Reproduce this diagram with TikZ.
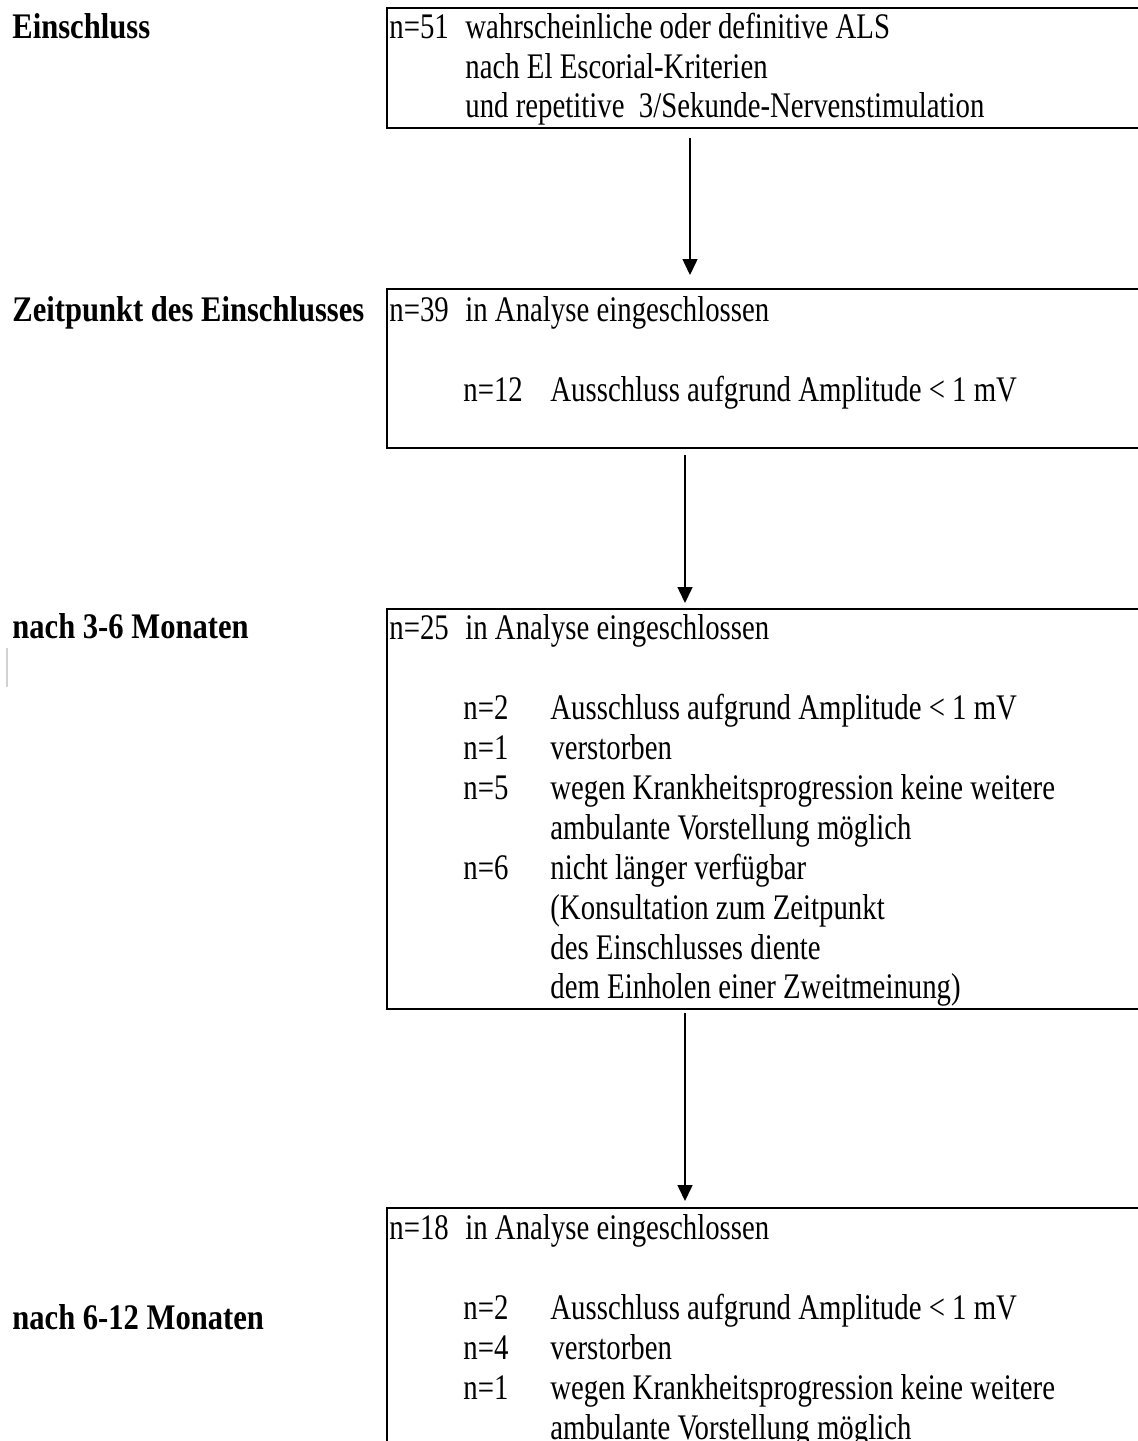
\documentclass[tikz,border=0pt]{standalone}
\usepackage{fontspec}
\setmainfont{Liberation Serif}[FakeStretch=0.80]
\newfontfamily\lblfont{Liberation Serif}[FakeStretch=0.85]
\usetikzlibrary{arrows.meta}

\begin{document}
\begin{tikzpicture}[x={(0.5pt,0)}, y={(0,-0.5pt)},
    txt/.style={anchor=base west, inner sep=0pt, font=\fontsize{18}{20}\selectfont},
    lbl/.style={anchor=base west, inner sep=0pt, font=\fontsize{18}{20}\lblfont\bfseries},
    box/.style={draw=black, line width=1.2pt, inner sep=0pt, anchor=north west, minimum width=390pt},
    arr/.style={-{Triangle[length=8pt,width=7.5pt]}, line width=0.75pt}]

    \useasboundingbox (0,0) rectangle (1137,1441);

    \pgfmathsetmacro{\colN}{389}
    \pgfmathsetmacro{\colA}{465}
    \pgfmathsetmacro{\colB}{463}
    \pgfmathsetmacro{\colC}{550}

    %% Kaesten, rechts ueber den Rand hinaus
    \node[box, minimum height=60pt]  (box1) at (386,7) {};
    \node[box, minimum height=79.5pt] (box2) at (386,288) {};
    \node[box, minimum height=200pt] (box3) at (386,608) {};
    \node[box, minimum height=150pt] (box4) at (386,1207) {};

    %% Zeitachse links
    \node[lbl] (lEin)  at (12,38)   {Einschluss};
    \node[lbl] (lZeit) at (12,321)  {Zeitpunkt des Einschlusses};
    \node[lbl] (lDrei) at (12,638)  {nach 3-6 Monaten};
    \node[lbl] (lSechs) at (12,1329) {nach 6-12 Monaten};
    \draw[gray!35, line width=0.6pt] (7,648) -- (7,687);

    %% Kasten 1
    \node[txt] (n51) at (\colN,38) {n=51};
    \node[txt] (t11) at (\colA,38) {wahrscheinliche oder definitive ALS};
    \node[txt] (t12) at (\colA,78) {nach El Escorial-Kriterien};
    \node[txt] (t13) at (\colA,117) {und repetitive\ \ 3/Sekunde-Nervenstimulation};

    %% Kasten 2
    \node[txt] (n39) at (\colN,321) {n=39};
    \node[txt] (t21) at (\colA,321) {in Analyse eingeschlossen};
    \node[txt] (n12) at (\colB,401) {n=12};
    \node[txt] (t22) at (\colC,401) {Ausschluss aufgrund Amplitude < 1 mV};

    %% Kasten 3
    \node[txt] (n25) at (\colN,639) {n=25};
    \node[txt] (t31) at (\colA,639) {in Analyse eingeschlossen};
    \node[txt] (n32) at (\colB,719) {n=2};
    \node[txt] (t32) at (\colC,719) {Ausschluss aufgrund Amplitude < 1 mV};
    \node[txt] (n33) at (\colB,759) {n=1};
    \node[txt] (t33) at (\colC,759) {verstorben};
    \node[txt] (n34) at (\colB,799) {n=5};
    \node[txt] (t34) at (\colC,799) {wegen Krankheitsprogression keine weitere};
    \node[txt] (t35) at (\colC,839) {ambulante Vorstellung möglich};
    \node[txt] (n36) at (\colB,879) {n=6};
    \node[txt] (t36) at (\colC,879) {nicht länger verfügbar};
    \node[txt] (t37) at (\colC,919) {(Konsultation zum Zeitpunkt};
    \node[txt] (t38) at (\colC,959) {des Einschlusses diente};
    \node[txt] (t39) at (\colC,998) {dem Einholen einer Zweitmeinung)};

    %% Kasten 4
    \node[txt] (n18) at (\colN,1239) {n=18};
    \node[txt] (t41) at (\colA,1239) {in Analyse eingeschlossen};
    \node[txt] (n42) at (\colB,1319) {n=2};
    \node[txt] (t42) at (\colC,1319) {Ausschluss aufgrund Amplitude < 1 mV};
    \node[txt] (n43) at (\colB,1359) {n=4};
    \node[txt] (t43) at (\colC,1359) {verstorben};
    \node[txt] (n44) at (\colB,1399) {n=1};
    \node[txt] (t44) at (\colC,1399) {wegen Krankheitsprogression keine weitere};
    \node[txt] (t45) at (\colC,1439) {ambulante Vorstellung möglich};

    %% Pfeile
    \coordinate (a1s) at (690,138);
    \coordinate (a1e) at (690,275);
    \coordinate (a2s) at (685,455);
    \coordinate (a2e) at (685,603);
    \coordinate (a3s) at (685,1013);
    \coordinate (a3e) at (685,1201);
    \draw[arr] (a1s) -- (a1e);
    \draw[arr] (a2s) -- (a2e);
    \draw[arr] (a3s) -- (a3e);
\end{tikzpicture}
\end{document}
